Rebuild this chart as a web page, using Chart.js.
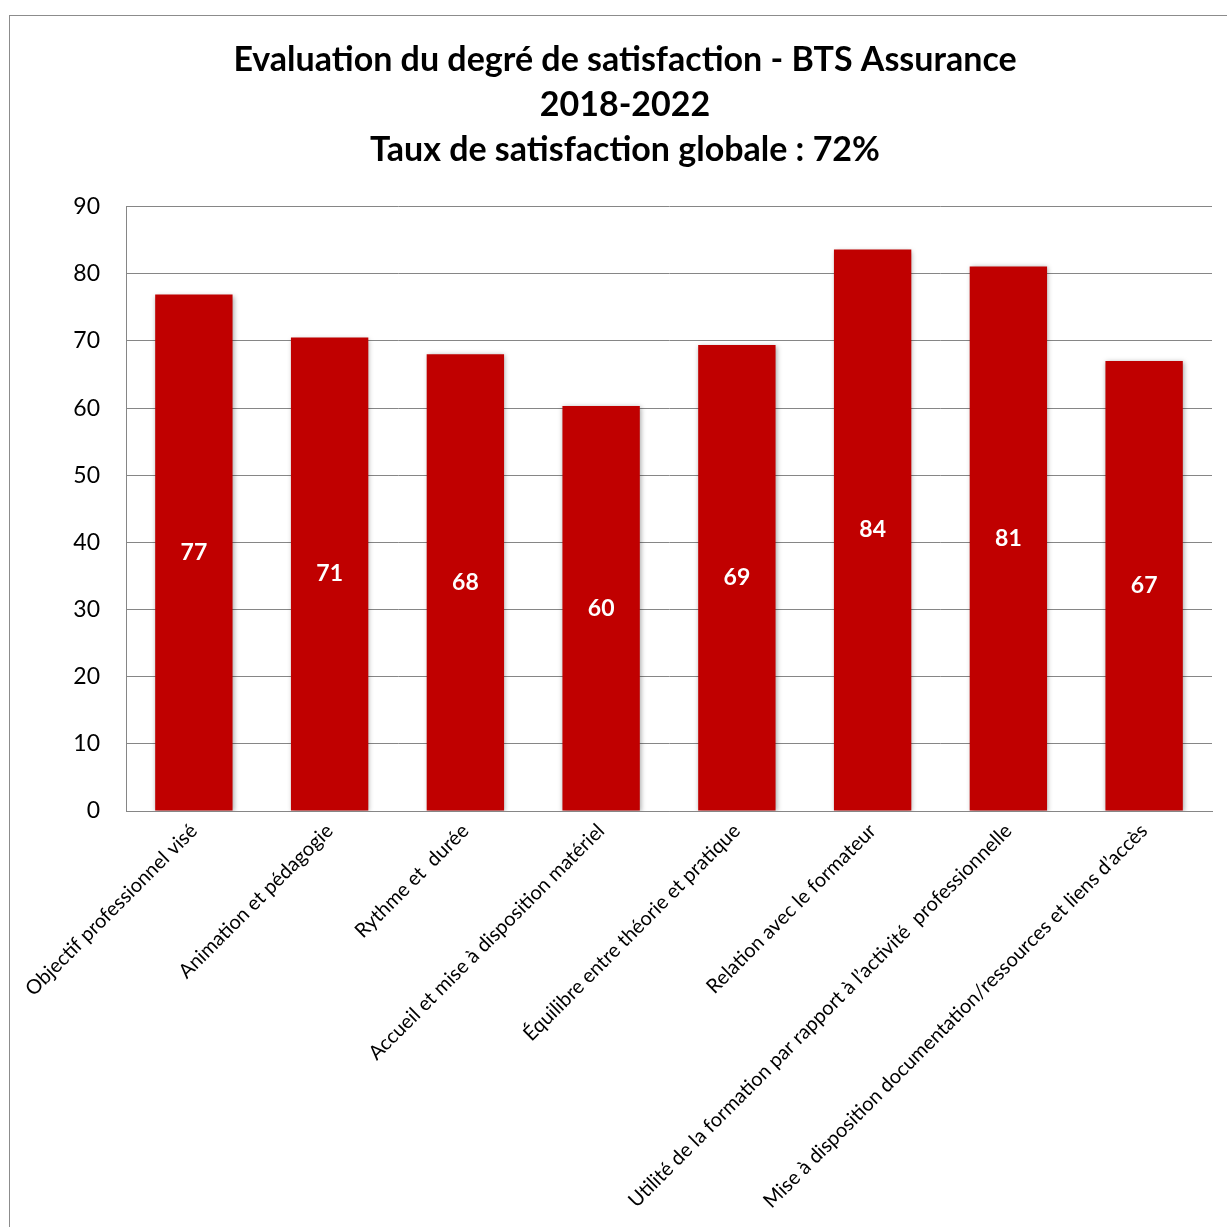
<!DOCTYPE html>
<html>
<head>
<meta charset="utf-8">
<script src="https://cdn.jsdelivr.net/npm/chart.js@4/dist/chart.umd.min.js"></script>
<style>
  html, body { margin: 0; padding: 0; background: #fff; overflow: hidden; }
  #frame { position: absolute; left: 9px; top: 15px; width: 1230px; height: 1230px; border: 1px solid #8c8c8c; background: #fff; }
  #frame canvas { display: block; }
</style>
</head>
<body>
<div id="frame"><canvas id="satisfactionChart" width="1230" height="1230"></canvas></div>
<script>
const categories = [
  'Objectif professionnel visé',
  'Animation et pédagogie',
  'Rythme et  durée',
  'Accueil et mise à disposition matériel',
  'Équilibre entre théorie et pratique',
  'Relation avec le formateur',
  'Utilité de la formation par rapport à l’activité  professionnelle',
  'Mise à disposition documentation/ressources et liens d’accès'
];
const scores = [76.9, 70.5, 68.0, 60.3, 69.4, 83.6, 81.1, 67.0];
const titleLines = [
  'Evaluation du degré de satisfaction - BTS Assurance',
  '2018-2022',
  'Taux de satisfaction globale : 72%'
];

const FONT = 'Lato, "Open Sans", sans-serif';

// white value labels in the middle of each bar
const barLabels = {
  id: 'barLabels',
  afterDatasetsDraw(chart) {
    const ctx = chart.ctx;
    const meta = chart.getDatasetMeta(0);
    ctx.save();
    ctx.fillStyle = '#ffffff';
    ctx.font = 'bold 23px ' + FONT;
    ctx.textAlign = 'center';
    ctx.textBaseline = 'middle';
    meta.data.forEach((bar, i) => {
      const mid = (bar.y + bar.base) / 2;
      ctx.fillText(Math.round(scores[i]), bar.x, mid);
    });
    ctx.restore();
  }
};

// soft shadow behind the bars
const barShadow = {
  id: 'barShadow',
  beforeDatasetDraw(chart) {
    const ctx = chart.ctx;
    ctx.save();
    ctx.shadowColor = 'rgba(0,0,0,0.35)';
    ctx.shadowBlur = 5;
    ctx.shadowOffsetX = 1;
    ctx.shadowOffsetY = 1;
  },
  afterDatasetDraw(chart) {
    chart.ctx.restore();
  }
};

const ctx = document.getElementById('satisfactionChart').getContext('2d');
new Chart(ctx, {
  type: 'bar',
  data: {
    labels: categories,
    datasets: [{
      data: scores,
      backgroundColor: '#c00000',
      borderWidth: 0,
      barPercentage: 0.57,
      categoryPercentage: 1
    }]
  },
  options: {
    responsive: false,
    animation: false,
    layout: { padding: { left: 28, right: 28, top: 0, bottom: 0 } },
    plugins: {
      legend: { display: false },
      tooltip: { enabled: false },
      title: {
        display: true,
        text: titleLines,
        color: '#000',
        font: { family: FONT, size: 34, weight: 'bold', lineHeight: 1.32 },
        padding: { top: 22, bottom: 34 }
      }
    },
    scales: {
      y: {
        min: 0,
        max: 90,
        afterFit(scale) { scale.width = 88; },
        ticks: { stepSize: 10, color: '#000', padding: 26, font: { family: FONT, size: 23 } },
        grid: { color: '#868686', lineWidth: 1, drawTicks: false },
        border: { color: '#868686' }
      },
      x: {
        afterFit(scale) { scale.height = 435; },
        ticks: {
          color: '#000',
          minRotation: 45,
          maxRotation: 45,
          autoSkip: false,
          padding: 8,
          font: { family: FONT, size: 20 }
        },
        grid: { display: false, drawTicks: false },
        border: { color: '#868686' }
      }
    }
  },
  plugins: [barShadow, barLabels]
});
</script>
</body>
</html>
